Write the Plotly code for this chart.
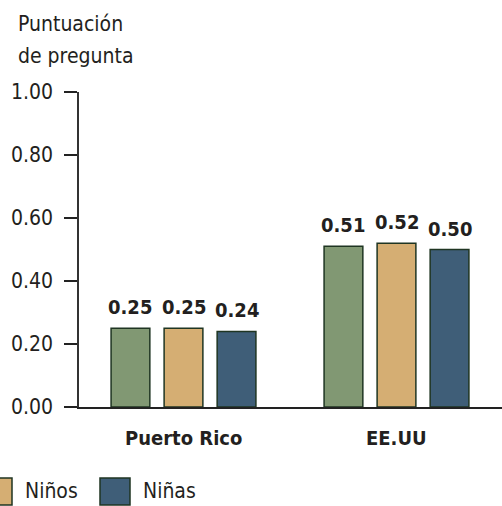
import plotly.graph_objects as go

# Data
groups = ["Puerto Rico", "EE.UU"]
series_names = ["Total", "Niños", "Niñas"]
total_vals = [0.25, 0.51]
ninos_vals = [0.25, 0.52]
ninas_vals = [0.24, 0.50]
y_ticks = [0.0, 0.2, 0.4, 0.6, 0.8, 1.0]
y_tick_labels = ["0.00", "0.20", "0.40", "0.60", "0.80", "1.00"]

values = [total_vals, ninos_vals, ninas_vals]
colors = ["#819873", "#d5ae73", "#3f5e78"]
outline = "#1f3522"
text_color = "#231f20"
FONT = "DejaVu Sans Condensed, sans-serif"

# Figure geometry (pixels)
W, H = 502, 506
ML, MR, MT, MB = 79, 0, 92, 99
PW, PH = W - ML - MR, H - MT - MB

offsets = [-0.249, 0.0, 0.249]
bar_w = 0.182
x_min = -0.4906
x_max = x_min + PW / 213.0

fig = go.Figure()
for name, vals, col, off in zip(series_names, values, colors, offsets):
    xs = [i + off for i in range(len(groups))]
    fig.add_trace(go.Bar(
        x=xs, y=vals, width=bar_w, name=name,
        marker=dict(color=col, line=dict(color=outline, width=1.5)),
        showlegend=False, hoverinfo="skip",
    ))
    for x, v in zip(xs, vals):
        fig.add_annotation(
            x=x, y=v, xref="x", yref="y", text=f"<b>{v:.2f}</b>",
            showarrow=False, yanchor="bottom", yshift=7,
            font=dict(family=FONT, size=20, color=text_color),
        )

# Group labels under the axis
for i, g in enumerate(groups):
    fig.add_annotation(
        x=i, y=0, xref="x", yref="y", text=f"<b>{g}</b>",
        showarrow=False, yanchor="top", yshift=-17,
        font=dict(family=FONT, size=20, color=text_color),
    )

# Axis title, two lines
def px_x(px):
    return (px - ML) / PW

def px_y(py):
    return (MT + PH - py) / PH

for line, py in [("Puntuación", 24), ("de pregunta", 56)]:
    fig.add_annotation(
        x=px_x(16), y=px_y(py), xref="paper", yref="paper", text=line,
        showarrow=False, xanchor="left", yanchor="middle",
        font=dict(family=FONT, size=21, color=text_color),
    )

# Legend along the bottom; the row starts left of the page edge
item_step = 118
first_swatch = 100 - item_step * 2
for k, (name, col) in enumerate(zip(series_names, colors)):
    x0 = first_swatch + k * item_step
    fig.add_shape(
        type="rect", xref="paper", yref="paper",
        x0=px_x(x0), x1=px_x(x0 + 30), y0=px_y(505), y1=px_y(478),
        fillcolor=col, line=dict(color=outline, width=1.5),
    )
    if x0 + 41 >= 0:
        fig.add_annotation(
            x=px_x(x0 + 41), y=px_y(491), xref="paper", yref="paper", text=name,
            showarrow=False, xanchor="left", yanchor="middle",
            font=dict(family=FONT, size=21, color=text_color),
        )

fig.update_layout(
    width=W, height=H,
    margin=dict(l=ML, r=MR, t=MT, b=MB, pad=0),
    paper_bgcolor="white", plot_bgcolor="white",
    barmode="overlay",
    font=dict(family=FONT, size=21, color=text_color),
    xaxis=dict(
        range=[x_min, x_max], showticklabels=False, ticks="",
        showgrid=False, zeroline=False,
        showline=True, linecolor="#222222", linewidth=2,
    ),
    yaxis=dict(
        range=[0, 1.0], tickvals=y_ticks, ticktext=y_tick_labels,
        ticks="outside", ticklen=13, tickwidth=2, tickcolor="#222222",
        showgrid=False, zeroline=False,
        showline=True, linecolor="#333333", linewidth=1.5,
        tickfont=dict(family=FONT, size=21, color=text_color),
        ticklabelstandoff=7,
    ),
)

fig.write_html("out.html")
